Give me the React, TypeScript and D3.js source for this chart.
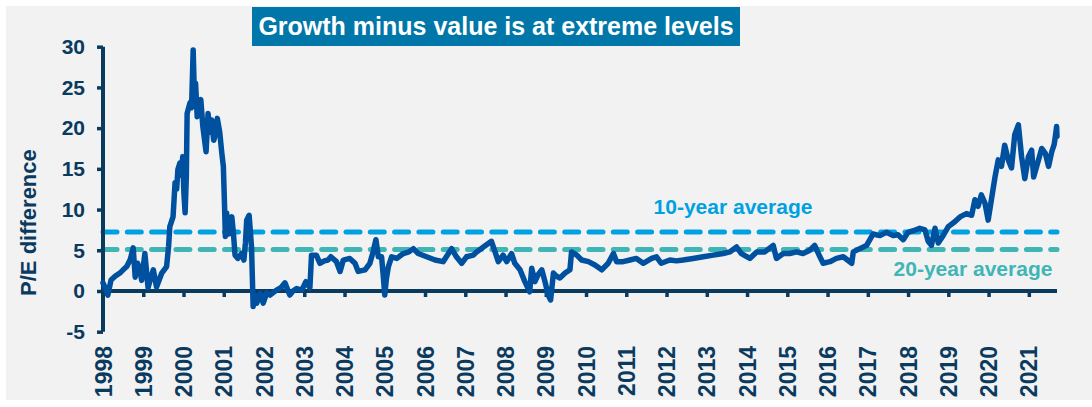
import React, { useRef, useEffect } from 'react';
import * as d3 from 'd3';

// growth minus value P/E difference, [decimal year, value]
const bubbleEra: [number, number][] = [
  [1998.0, 1.0], [1998.06, 0.3], [1998.12, -0.5], [1998.2, 1.35], [1998.3, 1.8], [1998.42, 2.2],
  [1998.5, 2.6], [1998.59, 3.0], [1998.68, 3.9], [1998.75, 5.3], [1998.8, 1.7], [1998.86, 3.4],
  [1998.92, 2.5], [1998.96, 1.3], [1999.04, 4.6], [1999.08, 2.5], [1999.12, 0.4], [1999.18, 1.5],
  [1999.25, 2.6], [1999.33, 0.5], [1999.4, 1.4], [1999.46, 2.2], [1999.52, 2.6], [1999.58, 3.0],
  [1999.63, 5.5], [1999.66, 7.9], [1999.74, 9.1], [1999.79, 13.3], [1999.83, 12.5], [1999.86, 14.9],
  [1999.91, 15.7], [1999.95, 14.2], [1999.98, 16.5], [2000.01, 12.0], [2000.04, 9.6], [2000.07, 14.0],
  [2000.09, 21.8], [2000.16, 23.1], [2000.2, 22.5], [2000.24, 29.6], [2000.27, 24.0], [2000.3, 25.5],
  [2000.34, 21.4], [2000.38, 22.0], [2000.43, 23.5], [2000.48, 20.2], [2000.56, 17.1], [2000.61, 21.8],
  [2000.66, 19.5], [2000.7, 21.0], [2000.75, 18.5], [2000.78, 19.0], [2000.84, 21.2], [2000.9, 19.5],
  [2000.95, 17.0], [2000.99, 15.3], [2001.02, 10.4], [2001.04, 6.7], [2001.07, 9.6], [2001.12, 7.0],
  [2001.15, 8.0], [2001.2, 9.1], [2001.24, 7.1], [2001.28, 4.4], [2001.35, 4.0], [2001.44, 4.6],
  [2001.5, 3.8], [2001.54, 6.0], [2001.57, 8.7], [2001.63, 9.3], [2001.69, 5.4], [2001.73, -1.9],
  [2001.78, -0.5], [2001.82, -1.5], [2001.9, -0.3], [2001.98, -1.5], [2002.07, -0.2],
];

const midCycle: [number, number][] = [
  [2002.15, -0.5], [2002.31, 0.1], [2002.42, 0.4], [2002.52, 1.0], [2002.64, -0.5], [2002.72, 0.0],
  [2002.81, 0.3], [2002.94, 0.1], [2003.04, 1.15], [2003.14, 0.4], [2003.18, 4.4], [2003.3, 4.4],
  [2003.39, 3.4], [2003.5, 3.7], [2003.59, 3.8], [2003.66, 4.2], [2003.8, 3.6], [2003.89, 2.4],
  [2003.97, 3.8], [2004.13, 4.0], [2004.26, 3.4], [2004.34, 2.4], [2004.51, 2.6], [2004.63, 3.4],
  [2004.71, 4.8], [2004.78, 6.3], [2004.84, 4.2], [2004.92, 4.2], [2004.96, 2.0], [2005.0, -0.5],
  [2005.04, 1.5], [2005.09, 3.0], [2005.17, 4.2], [2005.3, 4.0], [2005.46, 4.6], [2005.6, 4.8],
  [2005.71, 5.2], [2005.83, 4.6], [2006.04, 4.2], [2006.25, 3.8], [2006.45, 3.6], [2006.66, 5.2],
  [2006.78, 4.2], [2006.91, 3.4], [2007.03, 4.2], [2007.2, 4.4], [2007.28, 4.8], [2007.45, 5.4],
  [2007.65, 6.1], [2007.74, 4.8], [2007.82, 3.6], [2007.94, 4.4], [2008.03, 3.6], [2008.15, 4.6],
  [2008.23, 3.4], [2008.36, 2.6], [2008.48, 1.15], [2008.6, -0.1], [2008.65, 2.8], [2008.73, 1.15],
  [2008.81, 2.0], [2008.9, 2.6], [2008.98, 1.15], [2009.06, -0.5], [2009.12, -1.1],
];

const recovery: [number, number][] = [
  [2009.19, 2.2], [2009.27, 1.8], [2009.35, 1.6], [2009.48, 2.2], [2009.6, 2.6], [2009.64, 4.8],
  [2009.77, 4.4], [2009.89, 3.8], [2010.06, 3.6], [2010.22, 3.2], [2010.39, 2.6], [2010.55, 3.4],
  [2010.68, 4.6], [2010.76, 3.6], [2010.92, 3.6], [2011.09, 3.8], [2011.25, 4.0], [2011.42, 3.4],
  [2011.63, 4.0], [2011.75, 4.2], [2011.87, 3.4], [2012.08, 3.8], [2012.25, 3.7], [2012.41, 3.8],
  [2012.66, 4.0], [2012.91, 4.2], [2013.16, 4.4], [2013.41, 4.6], [2013.57, 4.8], [2013.74, 5.4],
  [2013.86, 4.6], [2014.07, 4.0], [2014.24, 4.8], [2014.44, 4.8], [2014.65, 5.6], [2014.73, 4.0],
  [2014.9, 4.6], [2015.06, 4.6], [2015.23, 4.8], [2015.39, 4.6], [2015.56, 5.0], [2015.68, 5.6],
  [2015.81, 4.2], [2015.89, 3.4], [2016.06, 3.6], [2016.22, 4.0], [2016.39, 4.2], [2016.6, 3.4],
  [2016.64, 4.8], [2016.8, 5.2], [2016.97, 5.6],
];

const recent: [number, number][] = [
  [2017.13, 7.0], [2017.3, 6.8], [2017.46, 7.2], [2017.63, 6.8], [2017.75, 6.9], [2017.88, 6.3],
  [2018.0, 7.2], [2018.13, 7.4], [2018.29, 7.7], [2018.42, 7.5], [2018.5, 6.1], [2018.58, 5.6],
  [2018.67, 7.7], [2018.75, 5.9], [2018.87, 6.8], [2019.0, 7.9], [2019.16, 8.5], [2019.29, 9.1],
  [2019.45, 9.5], [2019.58, 9.3], [2019.66, 11.2], [2019.74, 10.4], [2019.82, 11.8], [2019.91, 10.8],
  [2019.99, 8.7], [2020.07, 11.2], [2020.16, 14.0], [2020.24, 16.1], [2020.32, 15.3], [2020.4, 17.9],
  [2020.49, 16.1], [2020.57, 15.1], [2020.65, 19.2], [2020.74, 20.4], [2020.82, 16.5], [2020.9, 13.8],
  [2020.99, 16.5], [2021.07, 17.3], [2021.12, 14.0], [2021.24, 16.1], [2021.32, 17.5], [2021.41, 16.9],
  [2021.49, 15.3], [2021.57, 17.1], [2021.63, 18.0], [2021.66, 19.0], [2021.69, 20.2], [2021.7, 19.0],
];

const yearTicks = d3.range(1998, 2022);
const valueTicks = [-5, 0, 5, 10, 15, 20, 25, 30];
const averages = [
  { label: '10-year average', value: 7.25, color: '#00a1e1' },
  { label: '20-year average', value: 5.1, color: '#3fb5b6' },
];
const title = 'Growth minus value is at extreme levels';
const yTitle = 'P/E difference';

export default function App() {
  const svgRef = useRef<SVGSVGElement>(null);

  useEffect(() => {
    const svg = d3.select(svgRef.current);
    const width = 1092;
    const height = 407;
    const font = '"Liberation Sans", Arial, sans-serif';
    const navy = '#0b3a5f';

    svg.attr('viewBox', `0 0 ${width} ${height}`);
    svg.selectAll('*').remove();

    svg.append('rect').attr('width', width).attr('height', height).attr('fill', '#fff');
    svg.append('rect')
      .attr('x', 6).attr('y', 6)
      .attr('width', width - 6).attr('height', 394)
      .attr('fill', '#f2f2f2');

    const data = [...bubbleEra, ...midCycle, ...recovery, ...recent];

    const x = d3.scaleLinear().domain([1998, 2021.7]).range([103, 1057]);
    const y = d3.scaleLinear().domain([-5, 30]).range([331.7, 46.7]);

    // title box
    svg.append('rect')
      .attr('x', 252).attr('y', 7)
      .attr('width', 488).attr('height', 39)
      .attr('fill', '#0077a8');
    svg.append('text')
      .attr('x', 496).attr('y', 35)
      .attr('text-anchor', 'middle')
      .attr('font-family', font).attr('font-weight', 'bold')
      .attr('font-size', 25).attr('fill', '#fff')
      .text(title);

    // average lines
    averages.forEach(a => {
      svg.append('line')
        .attr('x1', x(1998)).attr('x2', x(2021.7))
        .attr('y1', y(a.value)).attr('y2', y(a.value))
        .attr('stroke', a.color)
        .attr('stroke-width', 5)
        .attr('stroke-linecap', 'round')
        .attr('stroke-dasharray', '14 10.3');
    });

    svg.append('text')
      .attr('x', 733).attr('y', 214)
      .attr('text-anchor', 'middle')
      .attr('font-family', font).attr('font-weight', 'bold')
      .attr('font-size', 21).attr('fill', averages[0].color)
      .text(averages[0].label);
    svg.append('text')
      .attr('x', 973).attr('y', 276)
      .attr('text-anchor', 'middle')
      .attr('font-family', font).attr('font-weight', 'bold')
      .attr('font-size', 21).attr('fill', averages[1].color)
      .text(averages[1].label);

    // axes
    const yAxis = svg.append('g')
      .attr('transform', `translate(${x(1998)},0)`)
      .call(d3.axisLeft(y).tickValues(valueTicks).tickSize(6).tickPadding(12)
        .tickFormat(d => String(d)));
    const xAxis = svg.append('g')
      .attr('transform', `translate(0,${y(0)})`)
      .call(d3.axisBottom(x).tickValues(yearTicks).tickSize(6).tickFormat(d3.format('d')));

    [yAxis, xAxis].forEach(g => {
      g.select('.domain').attr('stroke', navy).attr('stroke-width', 4);
      g.selectAll('.tick line').attr('stroke', navy).attr('stroke-width', 3.5);
      g.selectAll('.tick text')
        .attr('fill', navy)
        .attr('font-family', font)
        .attr('font-weight', 'bold')
        .attr('font-size', 21);
    });
    yAxis.select('.domain').attr('d', `M0,${y(-5)}V${y(30)}`);
    yAxis.selectAll('.tick line').attr('x1', 0).attr('x2', -6);
    xAxis.select('.domain').attr('d', `M${x(1998)},0H${x(2021.7)}`);
    xAxis.selectAll('.tick').filter((d: any) => d === 1998).select('line').remove();
    xAxis.selectAll('.tick text')
      .attr('font-size', 23)
      .attr('transform', 'rotate(-90)')
      .attr('text-anchor', 'end')
      .attr('x', -55)
      .attr('y', 0)
      .attr('dy', '0.35em');

    svg.append('text')
      .attr('transform', `translate(36,${y(8.4)}) rotate(-90)`)
      .attr('text-anchor', 'middle')
      .attr('font-family', font).attr('font-weight', 'bold')
      .attr('font-size', 22).attr('fill', navy)
      .text(yTitle);

    // main series
    const line = d3.line<[number, number]>()
      .x(d => x(d[0]))
      .y(d => y(d[1]));

    svg.append('path')
      .datum(data)
      .attr('fill', 'none')
      .attr('stroke', '#0050a0')
      .attr('stroke-width', 5.5)
      .attr('stroke-linejoin', 'round')
      .attr('stroke-linecap', 'round')
      .attr('d', line);
  }, []);

  return (
    <div style={{ position: 'absolute', left: 0, top: 0 }}>
      <svg ref={svgRef} width={1092} height={407} style={{ display: 'block' }} />
    </div>
  );
}
